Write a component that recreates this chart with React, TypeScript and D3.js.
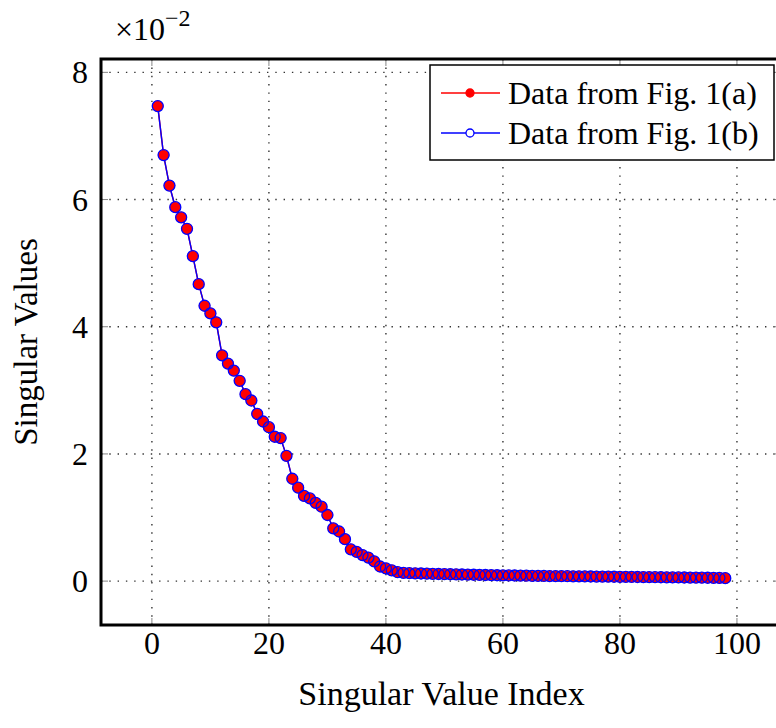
import React from 'react';
import * as d3 from 'd3';

// singular values (x 10^-2), index 1..98
const seriesA = [
  7.47, 6.70, 6.22, 5.88, 5.72, 5.54, 5.11, 4.67, 4.33, 4.21,
  4.07, 3.55, 3.42, 3.31, 3.15, 2.94, 2.84, 2.63, 2.51, 2.42,
  2.27, 2.25, 1.97, 1.61, 1.47, 1.34, 1.30, 1.23, 1.17, 1.04,
  0.83, 0.78, 0.66, 0.50, 0.46, 0.41, 0.37, 0.31, 0.23, 0.20,
  0.17, 0.14, 0.13, 0.125, 0.122, 0.12, 0.118, 0.115, 0.112, 0.11,
  0.108, 0.106, 0.104, 0.102, 0.10, 0.098, 0.096, 0.094, 0.092, 0.09,
  0.089, 0.088, 0.086, 0.085, 0.084, 0.083, 0.081, 0.080, 0.079, 0.078,
  0.077, 0.076, 0.075, 0.074, 0.073, 0.072, 0.071, 0.070, 0.069, 0.068,
  0.067, 0.066, 0.065, 0.064, 0.063, 0.062, 0.061, 0.060, 0.059, 0.058,
  0.057, 0.056, 0.055, 0.054, 0.053, 0.052, 0.050, 0.047,
];
// Fig. 1(b) gives the same curve
const seriesB = seriesA;

const xTicks = [0, 20, 40, 60, 80, 100];
const yTicks = [0, 2, 4, 6, 8];
const legendLabels = ['Data from Fig. 1(a)', 'Data from Fig. 1(b)'];

const W = 776;
const H = 728;
const left = 101, right = 782, top = 59, bottom = 625;
const font = 'Liberation Serif, DejaVu Serif, serif';

export default function App() {
  const x = d3.scaleLinear([-8.7, 107.7], [left, right]);
  const y = d3.scaleLinear([-0.69, 8.21], [bottom, top]);

  const line = d3.line<number>().x((d, i) => x(i + 1)).y(d => y(d));

  return (
    <svg width={W} height={H} style={{ position: 'absolute', left: 0, top: 0, background: '#fff' }}>
      <defs>
        <clipPath id="plot">
          <rect x={left} y={top} width={right - left} height={bottom - top} />
        </clipPath>
      </defs>

      {/* grid */}
      <g stroke="#333" strokeWidth={1.4} strokeDasharray="1.4 6.9">
        {xTicks.map(t => <line key={'gx' + t} x1={x(t)} x2={x(t)} y1={bottom} y2={top} />)}
        {yTicks.map(t => <line key={'gy' + t} x1={left} x2={right} y1={y(t)} y2={y(t)} />)}
      </g>
      {/* tick marks, inside on all sides */}
      <g stroke="#777" strokeWidth={0.9}>
        {xTicks.map(t => (
          <g key={'tx' + t}>
            <line x1={x(t)} x2={x(t)} y1={bottom} y2={bottom - 7} />
            <line x1={x(t)} x2={x(t)} y1={top} y2={top + 7} />
          </g>
        ))}
        {yTicks.map(t => (
          <g key={'ty' + t}>
            <line x1={left} x2={left + 7} y1={y(t)} y2={y(t)} />
            <line x1={right} x2={right - 7} y1={y(t)} y2={y(t)} />
          </g>
        ))}
      </g>

      <g clipPath="url(#plot)">
        <path d={line(seriesA) ?? ''} fill="none" stroke="red" strokeWidth={1.4} />
        <path d={line(seriesB) ?? ''} fill="none" stroke="blue" strokeWidth={1.4} />
        {seriesA.map((d, i) => (
          <circle key={'a' + i} cx={x(i + 1)} cy={y(d)} r={5.3} fill="red" stroke="red" strokeWidth={0.8} />
        ))}
        {seriesB.map((d, i) => (
          <circle key={'b' + i} cx={x(i + 1)} cy={y(d)} r={5.5} fill="none" stroke="blue" strokeWidth={1.3} />
        ))}
      </g>

      {/* frame */}
      <rect x={left} y={top} width={right - left} height={bottom - top} fill="none" stroke="#000" strokeWidth={3} />

      {/* tick labels */}
      <g fontFamily={font} fontSize={32} fill="#000">
        {xTicks.map(t => (
          <text key={'lx' + t} x={x(t)} y={654} textAnchor="middle">{t}</text>
        ))}
        {yTicks.map(t => (
          <text key={'ly' + t} x={88} y={y(t) + 11} textAnchor="end">{t}</text>
        ))}
        <text x={115} y={40}>
          ×10<tspan dy={-14} fontSize={24}>−2</tspan>
        </text>
        <text x={(left + right) / 2} y={705} textAnchor="middle" fontSize={34}>Singular Value Index</text>
        <text transform={`translate(37, ${(top + bottom) / 2}) rotate(-90)`} textAnchor="middle" fontSize={33}>Singular Values</text>
      </g>

      {/* legend */}
      <g fontFamily={font} fontSize={32} fill="#000">
        <rect x={430} y={65} width={344} height={95} fill="#fff" stroke="#000" strokeWidth={1.5} />
        {legendLabels.map((lab, i) => {
          const ly = 93 + i * 40;
          const col = i === 0 ? 'red' : 'blue';
          return (
            <g key={lab}>
              <line x1={441} x2={500} y1={ly} y2={ly} stroke={col} strokeWidth={1.4} />
              <circle cx={470} cy={ly} r={4} fill={i === 0 ? 'red' : '#fff'} stroke={col} strokeWidth={1.3} />
              <text x={508} y={ly + 11}>{lab}</text>
            </g>
          );
        })}
      </g>
    </svg>
  );
}
